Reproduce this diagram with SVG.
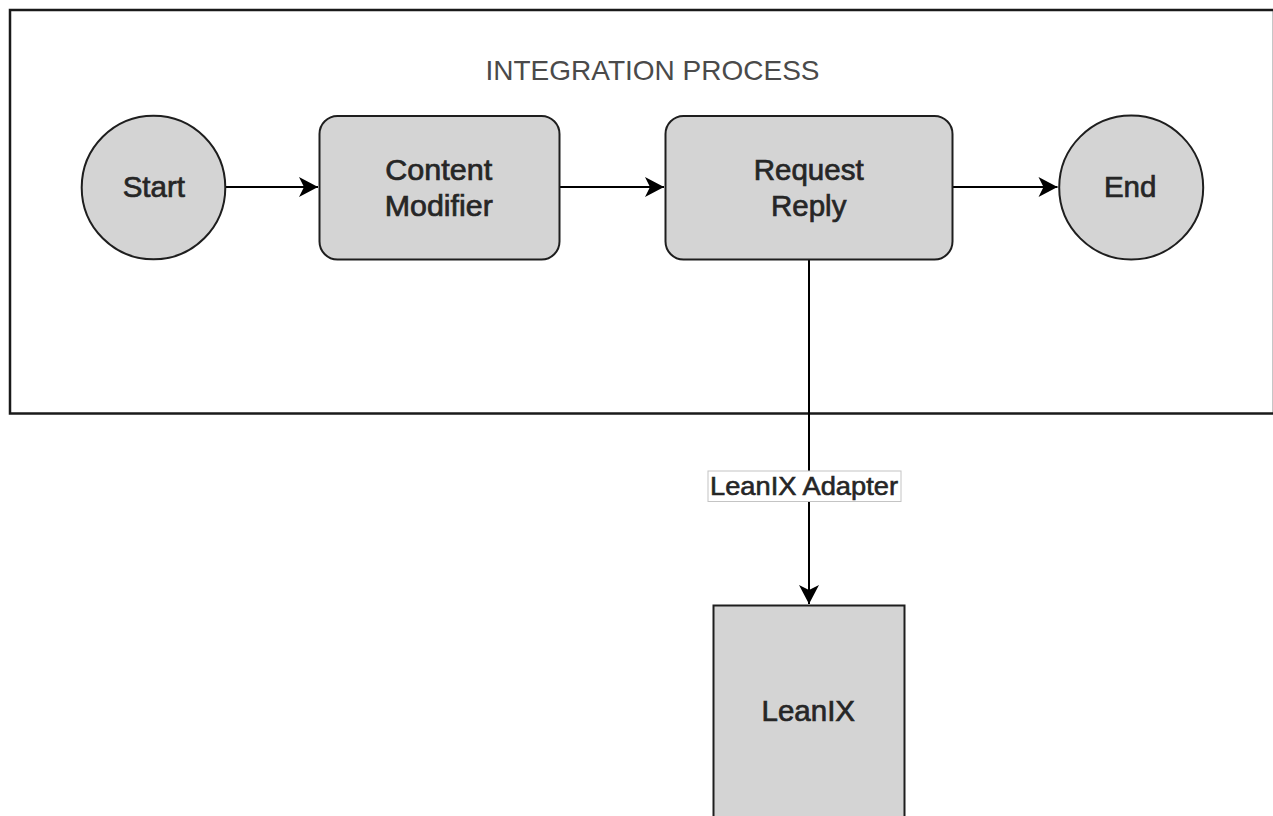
<svg xmlns="http://www.w3.org/2000/svg" width="1273" height="816" viewBox="0 0 1273 816">
  <style>
    .node { fill: #d4d4d4; stroke: #1e1e1e; stroke-width: 2; }
    .lbl { font-family: "Liberation Sans", Arial, sans-serif; font-size: 29.5px; fill: #262626; stroke: #262626; stroke-width: 0.7; text-anchor: middle; }
    .edge { fill: none; stroke: #000; stroke-width: 2; }
    .title { font-family: "Liberation Sans", Arial, sans-serif; font-size: 28px; fill: #4a4a4a; text-anchor: middle; }
    .elbl { font-family: "Liberation Sans", Arial, sans-serif; font-size: 26.5px; fill: #262626; stroke: #262626; stroke-width: 0.6; text-anchor: middle; }
  </style>
  <defs>
    <marker id="arr" markerUnits="userSpaceOnUse" markerWidth="22" markerHeight="22" viewBox="0 0 20 22" refX="19" refY="11" orient="auto">
      <path d="M0,1 L19,11 L0,21 L5,11 Z" fill="#000"/>
    </marker>
  </defs>
  <rect width="1273" height="816" fill="#fff"/>
  <g id="container">
    <rect x="10" y="10" width="1264" height="403.5" fill="#fff" stroke="#1a1a1a" stroke-width="2.5"/>
    <text class="title" x="652.5" y="80">INTEGRATION PROCESS</text>
  </g>
  <g id="connectors">
    <line class="edge" x1="225.5" y1="187" x2="318" y2="187" marker-end="url(#arr)"/>
    <line class="edge" x1="560" y1="187" x2="664" y2="187" marker-end="url(#arr)"/>
    <line class="edge" x1="952.5" y1="187" x2="1057.5" y2="187" marker-end="url(#arr)"/>
    <line class="edge" x1="809" y1="260" x2="809" y2="604" marker-end="url(#arr)"/>
    <g id="edge-label">
      <rect x="708" y="471" width="193" height="30.5" fill="#fff" stroke="#c4c4c4" stroke-width="1"/>
      <text class="elbl" x="804" y="494.5" textLength="188" lengthAdjust="spacingAndGlyphs">LeanIX Adapter</text>
    </g>
  </g>
  <g id="start">
    <circle class="node" cx="153.5" cy="187.5" r="71.8"/>
    <text class="lbl" x="153.8" y="196.5">Start</text>
  </g>
  <g id="content-modifier">
    <rect class="node" x="319.5" y="116" width="240" height="143.5" rx="18" ry="18"/>
    <text class="lbl" x="438.8" y="179.5" textLength="107" lengthAdjust="spacingAndGlyphs">Content</text>
    <text class="lbl" x="438.8" y="215.5" textLength="108" lengthAdjust="spacingAndGlyphs">Modifier</text>
  </g>
  <g id="request-reply">
    <rect class="node" x="665.5" y="116" width="287" height="143.5" rx="18" ry="18"/>
    <text class="lbl" x="808.7" y="179.5">Request</text>
    <text class="lbl" x="808.7" y="215.5">Reply</text>
  </g>
  <g id="end">
    <circle class="node" cx="1131.2" cy="187.5" r="72"/>
    <text class="lbl" x="1130.2" y="196.5">End</text>
  </g>
  <g id="leanix">
    <rect class="node" x="713.5" y="605.5" width="191" height="220"/>
    <text class="lbl" x="808.3" y="721">LeanIX</text>
  </g>
</svg>
